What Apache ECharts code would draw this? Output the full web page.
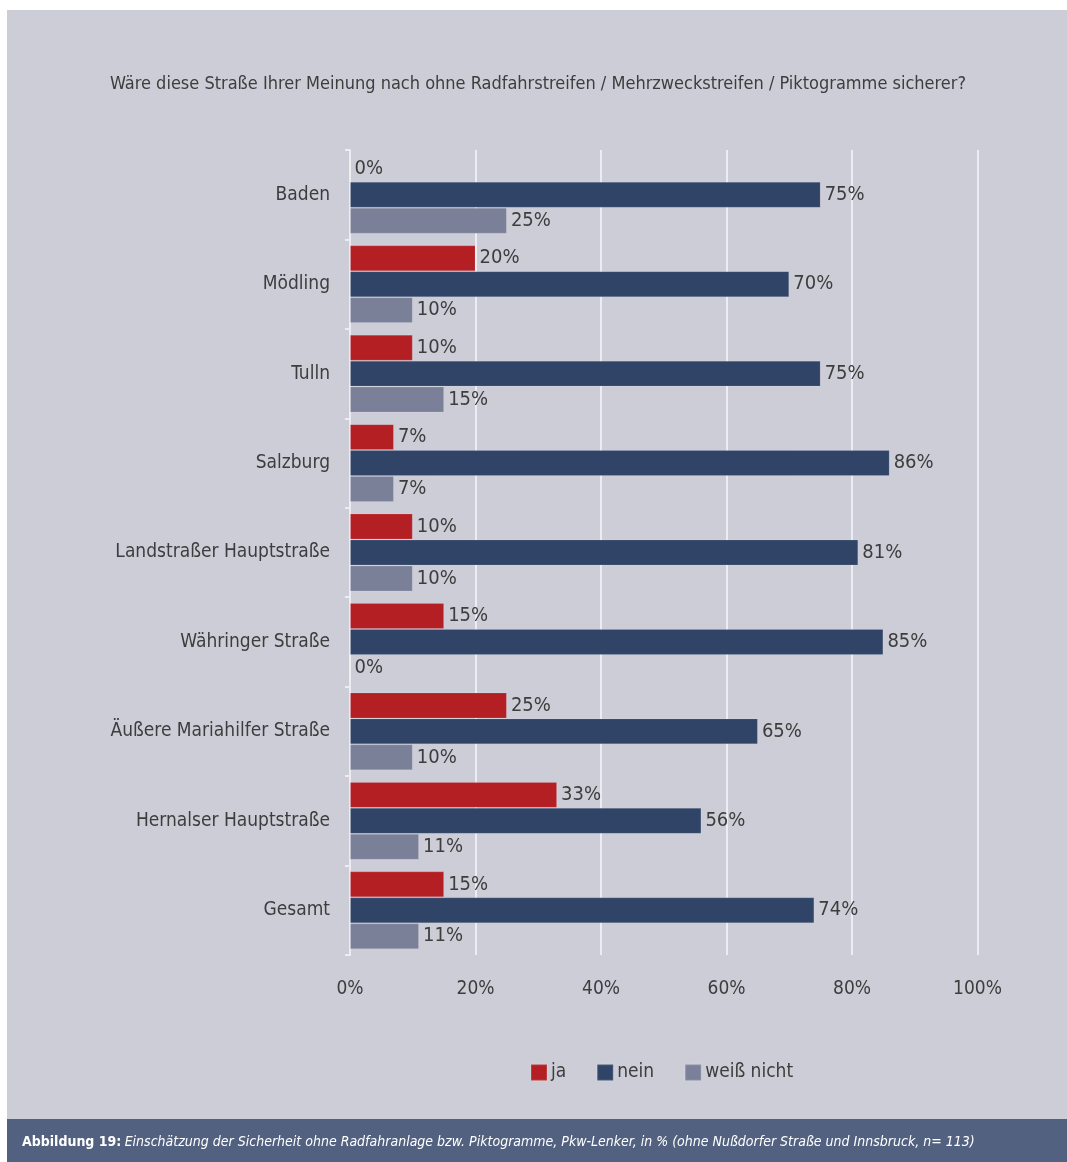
<!DOCTYPE html>
<html>
<head>
<meta charset="utf-8">
<script src="https://cdn.jsdelivr.net/npm/echarts@6/dist/echarts.min.js"></script>
<style>
  html, body { margin: 0; padding: 0; background: #ffffff; }
  #chart { width: 1067px; height: 1162px; }
</style>
</head>
<body>
<div id="chart"></div>
<script>
// Survey: would this street be safer without cycle lanes / shared lanes / pictograms?
const categories = [
  'Baden',
  'Mödling',
  'Tulln',
  'Salzburg',
  'Landstraßer Hauptstraße',
  'Währinger Straße',
  'Äußere Mariahilfer Straße',
  'Hernalser Hauptstraße',
  'Gesamt'
];
const seriesNames = ['ja', 'nein', 'weiß nicht'];
const jaValues = [0, 20, 10, 7, 10, 15, 25, 33, 15];
const neinValues = [75, 70, 75, 86, 81, 85, 65, 56, 74];
const weissNichtValues = [25, 10, 15, 7, 10, 0, 10, 11, 11];
const xTicks = [0, 20, 40, 60, 80, 100];

const FONT = '"DejaVu Sans Condensed", "Liberation Sans Narrow", "Liberation Sans", sans-serif';
const TEXT = '#3d3d3d';
const PANEL = '#cdcdd8';
const FOOTER = '#536180';
const colors = ['#b41f24', '#2f4466', '#7b8099'];

const chart = echarts.init(document.getElementById('chart'), null, { renderer: 'canvas' });

function barSeries(name, values, color) {
  return {
    name: name,
    type: 'bar',
    data: values,
    barGap: '0%',
    barCategoryGap: '13%',
    itemStyle: { color: color, borderColor: 'rgba(255,255,255,0.12)', borderWidth: 1 },
    label: {
      show: true,
      position: 'right',
      distance: 4,
      formatter: p => p.value + '%',
      color: TEXT,
      fontFamily: FONT,
      fontSize: 20
    },
    emphasis: { disabled: true },
    animation: false
  };
}

chart.setOption({
  animation: false,
  backgroundColor: '#ffffff',
  textStyle: { fontFamily: FONT, color: TEXT },
  graphic: [
    { type: 'rect', z: -10, shape: { x: 7, y: 10, width: 1060, height: 1109 }, style: { fill: PANEL } },
    { type: 'rect', z: -10, shape: { x: 7, y: 1119, width: 1060, height: 43 }, style: { fill: FOOTER } },
    {
      type: 'text', x: 538, y: 84,
      style: {
        text: 'Wäre diese Straße Ihrer Meinung nach ohne Radfahrstreifen / Mehrzweckstreifen / Piktogramme sicherer?',
        font: '18px ' + FONT, fill: TEXT, textAlign: 'center', textVerticalAlign: 'middle'
      }
    },
    {
      type: 'text', x: 22, y: 1142,
      style: {
        text: '{b|Abbildung 19:} {i|Einschätzung der Sicherheit ohne Radfahranlage bzw. Piktogramme, Pkw-Lenker, in % (ohne Nußdorfer Straße und Innsbruck, n= 113)}',
        textVerticalAlign: 'middle',
        rich: {
          b: { fontFamily: FONT, fontSize: 14, fontWeight: 'bold', fill: '#ffffff', color: '#ffffff' },
          i: { fontFamily: FONT, fontSize: 14, fontStyle: 'italic', fill: '#ffffff', color: '#ffffff' }
        }
      }
    }
  ],
  legend: {
    data: seriesNames,
    left: 525,
    top: 1058,
    itemWidth: 16,
    itemHeight: 16,
    itemGap: 30,
    icon: 'rect',
    textStyle: { fontFamily: FONT, fontSize: 19, color: TEXT, padding: [0, 0, 0, -1] },
    selectedMode: false
  },
  grid: { left: 350, right: 89.5, top: 150, bottom: 207, containLabel: false },
  xAxis: {
    type: 'value',
    min: xTicks[0],
    max: xTicks[xTicks.length - 1],
    interval: 20,
    axisLine: { show: false },
    axisTick: { show: false },
    axisLabel: { formatter: '{value}%', fontFamily: FONT, fontSize: 19, color: TEXT, margin: 25 },
    splitLine: { show: true, lineStyle: { color: '#ececf2', width: 2 } }
  },
  yAxis: {
    type: 'category',
    data: categories,
    inverse: true,
    axisLine: { show: true, lineStyle: { color: '#ececf2', width: 2 } },
    axisTick: { show: true, length: 5, lineStyle: { color: '#ececf2', width: 2 } },
    axisLabel: { fontFamily: FONT, fontSize: 19, color: TEXT, margin: 20 }
  },
  series: [
    barSeries(seriesNames[0], jaValues, colors[0]),
    barSeries(seriesNames[1], neinValues, colors[1]),
    barSeries(seriesNames[2], weissNichtValues, colors[2])
  ]
});
</script>
</body>
</html>
